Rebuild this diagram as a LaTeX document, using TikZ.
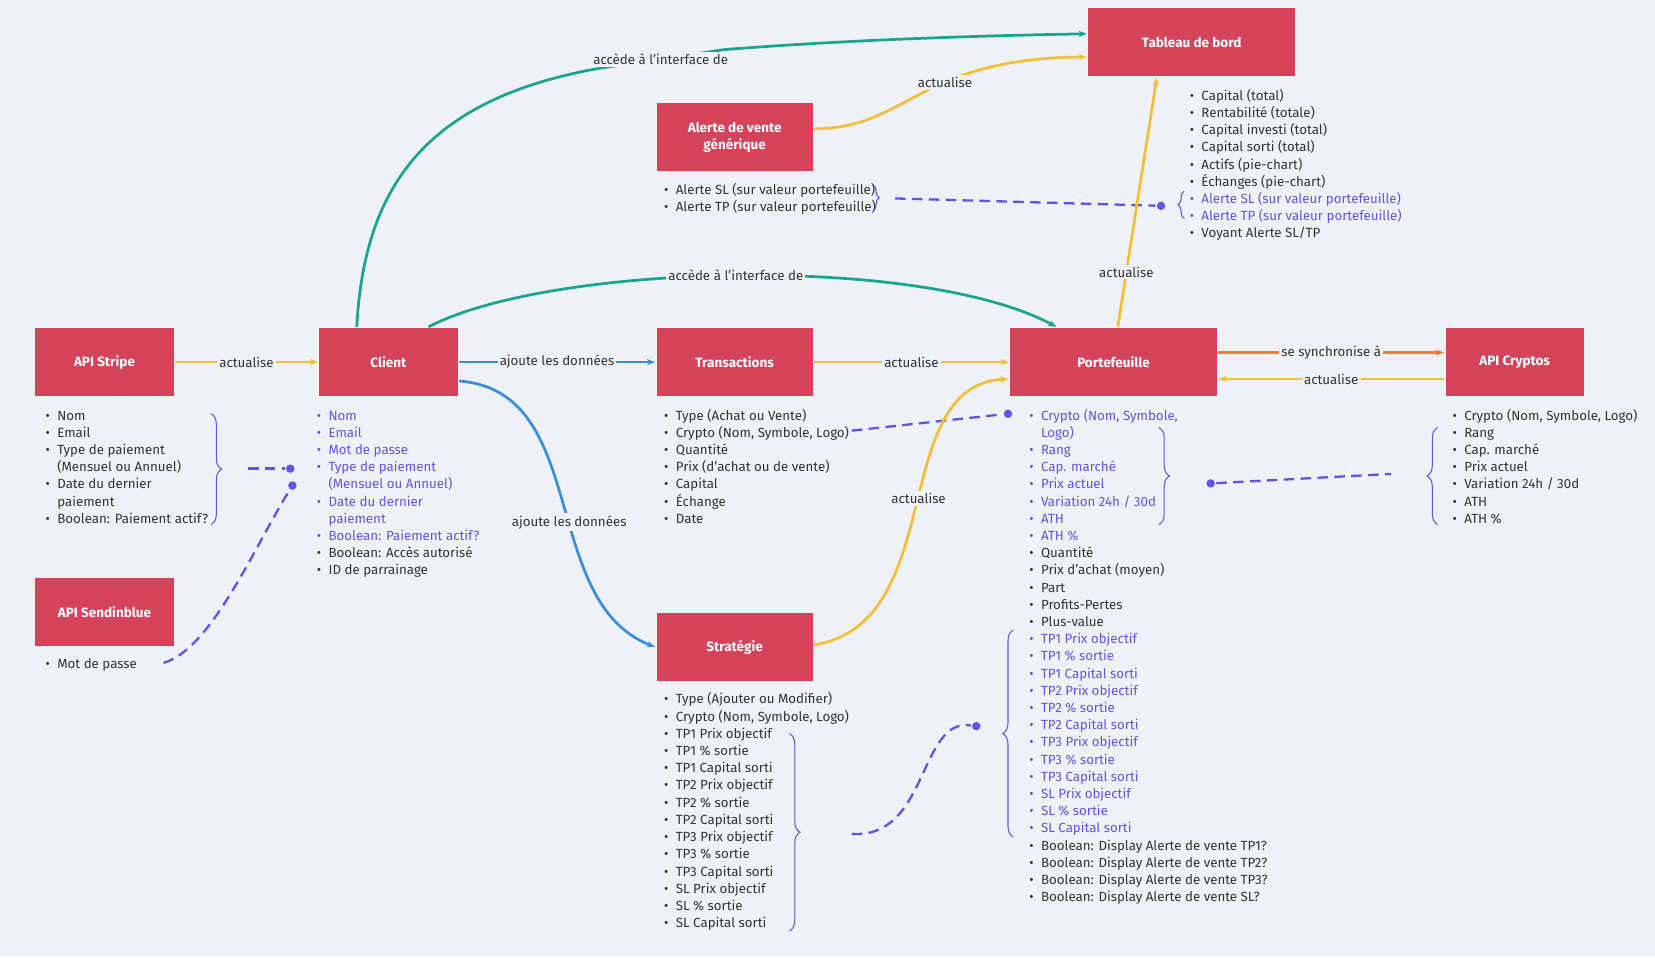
\documentclass[tikz,border=0pt]{standalone}
\usepackage{fontspec}
\setmainfont{Fira Sans}
\usetikzlibrary{positioning,decorations.pathreplacing,arrows.meta}
\definecolor{bg}{HTML}{EEF2F6}
\definecolor{boxred}{HTML}{D4435A}
\definecolor{gold}{HTML}{F3BE3A}
\definecolor{sky}{HTML}{3A8FD8}
\definecolor{teal}{HTML}{1CA58E}
\definecolor{orng}{HTML}{EE7B3A}
\definecolor{purp}{HTML}{6353E4}
\definecolor{txt}{HTML}{333333}
\newcommand{\bl}[1]{\makebox[5.5pt][l]{\textbullet}#1}
\newcommand{\cl}[1]{\makebox[5.5pt][l]{}#1}
\newcommand{\pbl}[1]{\textcolor{purp}{\bl{#1}}}
\newcommand{\pcl}[1]{\textcolor{purp}{\cl{#1}}}
\begin{document}
\begin{tikzpicture}[x=0.5pt,y=-0.5pt,>={Stealth[length=4pt]},line width=1.3pt,
  box/.style={fill=boxred,text=white,font=\fontsize{6.4}{8}\selectfont\bfseries,minimum height=32pt,align=center},
  list/.style={anchor=north west,align=left,inner sep=0pt,text=txt,font=\fontsize{6.3}{8.15}\selectfont},
  lbl/.style={fill=bg,inner sep=1pt,text=txt,font=\fontsize{6.3}{8}\selectfont},
  link/.style={->},
  dashlink/.style={purp,dash pattern=on 5pt off 3pt,line width=1.1pt},
  dot/.style={circle,fill=purp,inner sep=0pt,minimum size=4pt},
  brc/.style={purp,line width=0.5pt,decorate,decoration={brace,amplitude=5pt}}]
\fill[bg] (0,0) rectangle (1568,907);
\useasboundingbox (0,0) rectangle (1568,907);
% boxes
\node[box,minimum width=98pt] (tab) at (1129,40) {Tableau de bord};
\node[box,minimum width=74pt] (alert) at (696,130) {Alerte de vente\\générique};
\node[box,minimum width=65.5pt] (stripe) at (99,343) {API Stripe};
\node[box,minimum width=65.5pt] (client) at (368,343) {Client};
\node[box,minimum width=74pt] (trans) at (696,343) {Transactions};
\node[box,minimum width=98pt] (port) at (1055,343) {Portefeuille};
\node[box,minimum width=65.5pt] (crypto) at (1435,343) {API Cryptos};
\node[box,minimum width=65.5pt] (sendin) at (99,580) {API Sendinblue};
\node[box,minimum width=74pt] (strat) at (696,613) {Stratégie};
% lists
\node[list] (ltab) at (1126,83) {\bl{Capital (total)}\\\bl{Rentabilité (totale)}\\\bl{Capital investi (total)}\\\bl{Capital sorti (total)}\\\bl{Actifs (pie-chart)}\\\bl{Échanges (pie-chart)}\\\pbl{Alerte SL (sur valeur portefeuille)}\\\pbl{Alerte TP (sur valeur portefeuille)}\\\bl{Voyant Alerte SL/TP}};
\node[list] (lalert) at (628,172) {\bl{Alerte SL (sur valeur portefeuille)}\\\bl{Alerte TP (sur valeur portefeuille)}};
\node[list] (lstripe) at (42,388) {\bl{Nom}\\\bl{Email}\\\bl{Type de paiement}\\\cl{(Mensuel ou Annuel)}\\\bl{Date du dernier}\\\cl{paiement}\\\bl{Boolean: Paiement actif?}};
\node[list] (lclient) at (299,388) {\pbl{Nom}\\\pbl{Email}\\\pbl{Mot de passe}\\\pbl{Type de paiement}\\\pcl{(Mensuel ou Annuel)}\\\pbl{Date du dernier}\\\pcl{paiement}\\\pbl{Boolean: Paiement actif?}\\\bl{Boolean: Accès autorisé}\\\bl{ID de parrainage}};
\node[list] (ltrans) at (628,386) {\bl{Type (Achat ou Vente)}\\\bl{Crypto (Nom, Symbole, Logo)}\\\bl{Quantité}\\\bl{Prix (d'achat ou de vente)}\\\bl{Capital}\\\bl{Échange}\\\bl{Date}};
\node[list] (lport) at (974,386) {\pbl{Crypto (Nom, Symbole,}\\\pcl{Logo)}\\\pbl{Rang}\\\pbl{Cap. marché}\\\pbl{Prix actuel}\\\pbl{Variation 24h / 30d}\\\pbl{ATH}\\\pbl{ATH \%}\\\bl{Quantité}\\\bl{Prix d'achat (moyen)}\\\bl{Part}\\\bl{Profits-Pertes}\\\bl{Plus-value}\\\pbl{TP1 Prix objectif}\\\pbl{TP1 \% sortie}\\\pbl{TP1 Capital sorti}\\\pbl{TP2 Prix objectif}\\\pbl{TP2 \% sortie}\\\pbl{TP2 Capital sorti}\\\pbl{TP3 Prix objectif}\\\pbl{TP3 \% sortie}\\\pbl{TP3 Capital sorti}\\\pbl{SL Prix objectif}\\\pbl{SL \% sortie}\\\pbl{SL Capital sorti}\\\bl{Boolean: Display Alerte de vente TP1?}\\\bl{Boolean: Display Alerte de vente TP2?}\\\bl{Boolean: Display Alerte de vente TP3?}\\\bl{Boolean: Display Alerte de vente SL?}};
\node[list] (lcrypto) at (1375,386) {\bl{Crypto (Nom, Symbole, Logo)}\\\bl{Rang}\\\bl{Cap. marché}\\\bl{Prix actuel}\\\bl{Variation 24h / 30d}\\\bl{ATH}\\\bl{ATH \%}};
\node[list] (lsendin) at (42,623) {\bl{Mot de passe}};
\node[list] (lstrat) at (628,655) {\bl{Type (Ajouter ou Modifier)}\\\bl{Crypto (Nom, Symbole, Logo)}\\\bl{TP1 Prix objectif}\\\bl{TP1 \% sortie}\\\bl{TP1 Capital sorti}\\\bl{TP2 Prix objectif}\\\bl{TP2 \% sortie}\\\bl{TP2 Capital sorti}\\\bl{TP3 Prix objectif}\\\bl{TP3 \% sortie}\\\bl{TP3 Capital sorti}\\\bl{SL Prix objectif}\\\bl{SL \% sortie}\\\bl{SL Capital sorti}};
% braces
\draw[brc] (200,392) -- (200,497);
\draw[brc] (1098,405) -- (1098,497);
\draw[brc] (1362,497) -- (1362,405);
\draw[brc] (748,695) -- (748,882);
\draw[brc] (960,793) -- (960,597);
\draw[brc,decoration={amplitude=3pt}] (827,175) -- (827,200);
\draw[brc,decoration={amplitude=3pt}] (1122,207) -- (1122,181);
% dashed links
\node[dot] (d1) at (275,444) {};
\node[dot] (d2) at (277,460) {};
\node[dot] (d3) at (955,392) {};
\node[dot] (d4) at (1147,458) {};
\node[dot] (d5) at (925,688) {};
\node[dot] (d6) at (1100,195) {};
\coordinate (e1) at (235,444);
\coordinate (e2) at (155,628);
\coordinate (e3) at (807,408);
\coordinate (e4) at (1318,449);
\coordinate (e5) at (807,790);
\coordinate (e6) at (848,188);
\draw[dashlink] (e1) -- (d1);
\draw[dashlink] (e2) .. controls (200,615) and (240,520) .. (d2);
\draw[dashlink] (e3) -- (d3);
\draw[dashlink] (d4) -- (e4);
\draw[dashlink] (e5) .. controls (880,795) and (870,680) .. (d5);
\draw[dashlink] (e6) -- (d6);
% connectors
\draw[link,gold] (stripe) -- node[lbl] {actualise} (client);
\draw[link,sky] (client) -- node[lbl] {ajoute les données} (trans);
\draw[link,sky] (client.east) ++(0,18) .. controls (560,370) and (510,570) .. node[lbl,pos=0.56] {ajoute les données} (strat.west);
\draw[link,gold] (trans) -- node[lbl] {actualise} (port);
\draw[link,orng] ([yshift=4.5pt]port.east) -- node[lbl] {se synchronise à} ([yshift=4.5pt]crypto.west);
\draw[link,gold] ([yshift=-8pt]crypto.west) -- node[lbl] {actualise} ([yshift=-8pt]port.east);
\draw[link,gold] ([yshift=1pt]strat.east) .. controls (900,590) and (840,365) .. node[lbl,pos=0.52] {actualise} ([yshift=-8pt]port.west);
\draw[link,gold] ([xshift=2pt]port.north) -- node[lbl,pos=0.22] {actualise} ([xshift=-16.5pt]tab.south);
\draw[link,gold] ([yshift=4pt]alert.east) .. controls (860,122) and (870,55) .. node[lbl,pos=0.6] {actualise} ([yshift=-7pt]tab.west);
\coordinate (tc) at (566,65);
\coordinate (tc2) at (686,47);
\draw[teal] ([xshift=-15pt]client.north) .. controls (345,180) and (400,95) .. (tc);
\draw[teal] (tc) -- node[lbl,fill=bg] {accède à l'interface de} (tc2);
\draw[link,teal] (tc2) .. controls (800,38) and (920,34) .. ([yshift=4pt]tab.west);
\draw[link,teal] ([xshift=19pt]client.north) .. controls (520,250) and (870,240) .. node[lbl,pos=0.5] {accède à l'interface de} ([xshift=-27pt]port.north);
\end{tikzpicture}
\end{document}
